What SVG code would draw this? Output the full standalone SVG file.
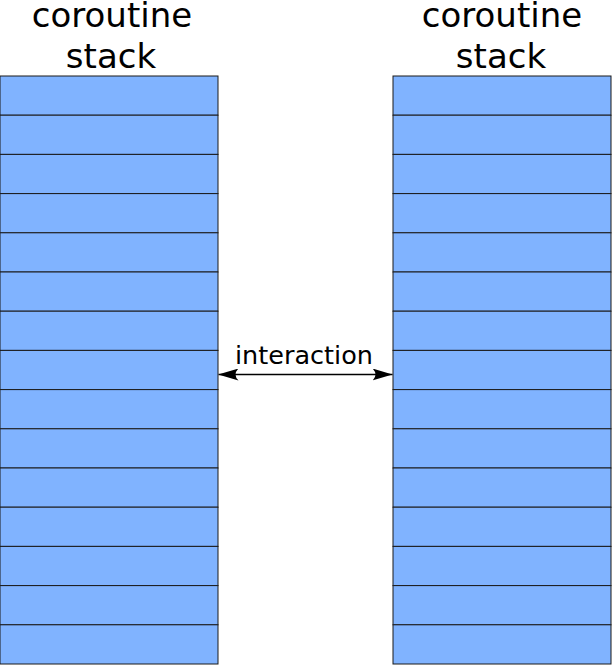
<svg xmlns="http://www.w3.org/2000/svg" width="612" height="665" viewBox="0 0 612 665">
<style>
.cell{fill:#80b3ff;stroke:#1a1a1a;stroke-width:1}
.t{font-family:"DejaVu Sans",sans-serif;fill:#000;text-anchor:middle}
</style>
<defs>
<marker id="ah" viewBox="0 0 20 12" refX="20" refY="6" markerWidth="20" markerHeight="12" markerUnits="userSpaceOnUse" orient="auto-start-reverse">
<path d="M0,0 L20,6 L0,12 Q6,6 0,0 Z" fill="#000"/>
</marker>
</defs>
<rect width="612" height="665" fill="#fff"/>
<g id="left-stack">
<text class="t" x="112" y="27" font-size="34">coroutine</text>
<text class="t" x="111" y="68" font-size="34">stack</text>
<g id="left-cells">
<rect class="cell" x="0" y="76" width="218" height="39.2"/>
<rect class="cell" x="0" y="115.2" width="218" height="39.2"/>
<rect class="cell" x="0" y="154.4" width="218" height="39.2"/>
<rect class="cell" x="0" y="193.6" width="218" height="39.2"/>
<rect class="cell" x="0" y="232.8" width="218" height="39.2"/>
<rect class="cell" x="0" y="272" width="218" height="39.2"/>
<rect class="cell" x="0" y="311.2" width="218" height="39.2"/>
<rect class="cell" x="0" y="350.4" width="218" height="39.2"/>
<rect class="cell" x="0" y="389.6" width="218" height="39.2"/>
<rect class="cell" x="0" y="428.8" width="218" height="39.2"/>
<rect class="cell" x="0" y="468" width="218" height="39.2"/>
<rect class="cell" x="0" y="507.2" width="218" height="39.2"/>
<rect class="cell" x="0" y="546.4" width="218" height="39.2"/>
<rect class="cell" x="0" y="585.6" width="218" height="39.2"/>
<rect class="cell" x="0" y="624.8" width="218" height="39.2"/>
</g>
</g>
<g id="right-stack">
<text class="t" x="502" y="27" font-size="34">coroutine</text>
<text class="t" x="501" y="68" font-size="34">stack</text>
<g id="right-cells">
<rect class="cell" x="393" y="76" width="218" height="39.2"/>
<rect class="cell" x="393" y="115.2" width="218" height="39.2"/>
<rect class="cell" x="393" y="154.4" width="218" height="39.2"/>
<rect class="cell" x="393" y="193.6" width="218" height="39.2"/>
<rect class="cell" x="393" y="232.8" width="218" height="39.2"/>
<rect class="cell" x="393" y="272" width="218" height="39.2"/>
<rect class="cell" x="393" y="311.2" width="218" height="39.2"/>
<rect class="cell" x="393" y="350.4" width="218" height="39.2"/>
<rect class="cell" x="393" y="389.6" width="218" height="39.2"/>
<rect class="cell" x="393" y="428.8" width="218" height="39.2"/>
<rect class="cell" x="393" y="468" width="218" height="39.2"/>
<rect class="cell" x="393" y="507.2" width="218" height="39.2"/>
<rect class="cell" x="393" y="546.4" width="218" height="39.2"/>
<rect class="cell" x="393" y="585.6" width="218" height="39.2"/>
<rect class="cell" x="393" y="624.8" width="218" height="39.2"/>
</g>
</g>
<g id="connectors">
<line x1="218.5" y1="374.5" x2="392.5" y2="374.5" stroke="#000" stroke-width="1.5" marker-start="url(#ah)" marker-end="url(#ah)"/>
<text class="t" x="304" y="364" font-size="25.5">interaction</text>
</g>
</svg>
